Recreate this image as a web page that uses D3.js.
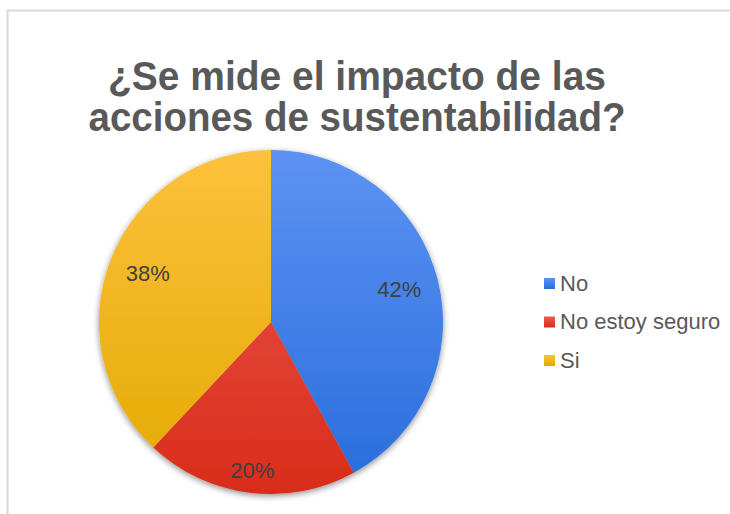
<!DOCTYPE html>
<html>
<head>
<meta charset="utf-8">
<script src="https://cdn.jsdelivr.net/npm/d3@7"></script>
<style>
  body { margin: 0; background: #fff; }
  svg { display: block; }
</style>
</head>
<body>
<svg width="730" height="514"></svg>
<script>
// chart data
var categories = ["No", "No estoy seguro", "Si"];
var values = [42, 20, 38];
var titleLines = ["¿Se mide el impacto de las", "acciones de sustentabilidad?"];
var colorsTop = ["#5d92f3", "#ea5b50", "#fdc13d"];
var colorsBottom = ["#276ddc", "#d92c1a", "#e3a900"];

var svg = d3.select("svg"),
    width = +svg.attr("width"),
    height = +svg.attr("height");

var cx = 271, cy = 322, radius = 172;

var defs = svg.append("defs");

// soft shadow under the pie
var shadow = defs.append("filter")
    .attr("id", "shadow")
    .attr("x", "-20%").attr("y", "-20%")
    .attr("width", "140%").attr("height", "140%");
shadow.append("feDropShadow")
    .attr("dx", 0).attr("dy", 2)
    .attr("stdDeviation", 3)
    .attr("flood-color", "#000")
    .attr("flood-opacity", 0.45);

// one vertical gradient per slice, over the whole pie height
categories.forEach(function (c, i) {
    var grad = defs.append("linearGradient")
        .attr("id", "grad" + i)
        .attr("gradientUnits", "userSpaceOnUse")
        .attr("x1", 0).attr("y1", -radius)
        .attr("x2", 0).attr("y2", radius);
    grad.append("stop").attr("offset", "0%").attr("stop-color", colorsTop[i]);
    grad.append("stop").attr("offset", "100%").attr("stop-color", colorsBottom[i]);

    var lg = defs.append("linearGradient")
        .attr("id", "lgrad" + i)
        .attr("x1", 0).attr("y1", 0)
        .attr("x2", 0).attr("y2", 1);
    lg.append("stop").attr("offset", "0%").attr("stop-color", colorsTop[i]);
    lg.append("stop").attr("offset", "100%").attr("stop-color", colorsBottom[i]);
});

// chart border
svg.append("rect")
    .attr("x", 7.5).attr("y", 10.5)
    .attr("width", width + 10).attr("height", height + 10)
    .attr("fill", "#fff")
    .attr("stroke", "#d9d9d9")
    .attr("stroke-width", 2);

// title (narrow look in the original, so squeeze to its width)
var titleWidths = [498, 537];
svg.append("g")
    .selectAll("text")
    .data(titleLines)
    .enter().append("text")
    .attr("x", 357)
    .attr("y", function (d, i) { return 90 + i * 41; })
    .attr("text-anchor", "middle")
    .attr("textLength", function (d, i) { return titleWidths[i]; })
    .attr("lengthAdjust", "spacingAndGlyphs")
    .attr("font-family", "Liberation Sans, Arial, sans-serif")
    .attr("font-weight", "bold")
    .attr("font-size", 40)
    .attr("fill", "#595959")
    .text(function (d) { return d; });

// pie
var pie = d3.pie().sort(null).value(function (d) { return d; });
var arcs = pie(values);

var arc = d3.arc().innerRadius(0).outerRadius(radius);

var g = svg.append("g")
    .attr("transform", "translate(" + cx + "," + cy + ")");

g.append("g")
    .attr("filter", "url(#shadow)")
    .selectAll("path")
    .data(arcs)
    .enter().append("path")
    .attr("d", arc)
    .attr("fill", function (d, i) { return "url(#grad" + i + ")"; });

// labels, smaller slices get pushed further out
var total = d3.sum(values);
g.selectAll(".label")
    .data(arcs)
    .enter().append("text")
    .attr("class", "label")
    .attr("transform", function (d) {
        var r = d.value / total < 0.25 ? radius * 0.87 : radius * 0.77;
        var a = (d.startAngle + d.endAngle) / 2;
        return "translate(" + (Math.sin(a) * r) + "," + (-Math.cos(a) * r) + ")";
    })
    .attr("dy", "0.35em")
    .attr("text-anchor", "middle")
    .attr("font-family", "Liberation Sans, Arial, sans-serif")
    .attr("font-size", 22)
    .attr("fill", "#404040")
    .text(function (d) { return Math.round(d.value / total * 100) + "%"; });

// legend
var legendY = d3.scalePoint()
    .domain(categories)
    .range([283, 360]);

var legend = svg.append("g")
    .selectAll("g")
    .data(categories)
    .enter().append("g")
    .attr("transform", function (d) { return "translate(544," + legendY(d) + ")"; });

legend.append("rect")
    .attr("x", 0).attr("y", -5)
    .attr("width", 11).attr("height", 11)
    .attr("fill", function (d, i) { return "url(#lgrad" + i + ")"; });

legend.append("text")
    .attr("x", 16)
    .attr("dy", "0.35em")
    .attr("font-family", "Liberation Sans, Arial, sans-serif")
    .attr("font-size", 22)
    .attr("fill", "#595959")
    .text(function (d) { return d; });
</script>
</body>
</html>
